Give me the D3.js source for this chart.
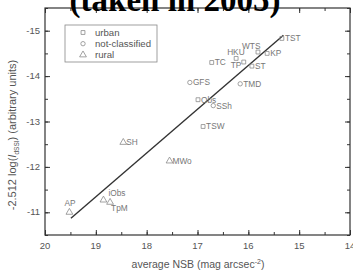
<!DOCTYPE html>
<html>
<head>
<meta charset="utf-8">
<script src="https://cdn.jsdelivr.net/npm/d3@7"></script>
<style>
  body { margin: 0; background: #fff; }
  svg { display: block; }
</style>
</head>
<body>
<script>
// sites: [name, NSB, -2.512 log(I), type]
var names  = ["TST", "KP", "WTS", "HKU", "TC", "TP", "ST", "GFS", "TMD", "Obs", "SSh", "TSW", "SH", "MWo", "iObs", "TpM", "AP"];
var nsb    = [15.34, 15.63, 15.81, 16.24, 16.72, 16.09, 15.93, 17.15, 16.16, 16.99, 16.69, 16.89, 18.46, 17.55, 18.85, 18.72, 19.52];
var mag    = [-14.83, -14.50, -14.53, -14.39, -14.30, -14.31, -14.22, -13.86, -13.83, -13.48, -13.35, -12.89, -12.54, -12.13, -11.27, -11.22, -11.00];
var kinds  = ["urban", "urban", "urban", "urban", "urban", "urban", "urban", "not-classified", "not-classified", "urban", "not-classified", "urban", "rural", "rural", "rural", "rural", "rural"];
var legendKinds = ["urban", "not-classified", "rural"];
var xTicks = [20, 19, 18, 17, 16, 15, 14];
var yTicks = [-15, -14, -13, -12, -11];
var fitLine = [[19.49, -10.87], [15.31, -14.90]];

const WIDTH = 353;
const HEIGHT = 273;
const PL = 45, PR = 350, PT = 8, PB = 235;

var x = d3.scaleLinear().domain([20, 14]).range([PL, PR]);
var y = d3.scaleLinear().domain([-10.5, -15.5]).range([PB, PT]);

var svg = d3.select("body").append("svg")
    .attr("width", WIDTH)
    .attr("height", HEIGHT)
    .attr("font-family", "Liberation Sans, Arial, sans-serif");

var axisColor = "#333";
var markColor = "#8a8a8a";
var textColor = "#555";

// ticks (inward) on all sides
function ticks(g, axis) {
  g.call(axis);
  g.select(".domain").remove();
  g.selectAll("line").attr("stroke", axisColor);
}
var minorX = d3.range(20, 13.9, -0.5);
var minorY = d3.range(-15.5, -10.4, 0.5);

svg.append("g").attr("transform", `translate(0,${PB})`)
  .call(g => ticks(g, d3.axisTop(x).tickValues(minorX).tickSize(3).tickFormat("")));
svg.append("g").attr("transform", `translate(0,${PB})`)
  .call(g => ticks(g, d3.axisTop(x).tickValues(xTicks).tickSize(5).tickFormat("")));
svg.append("g").attr("transform", `translate(0,${PT})`)
  .call(g => ticks(g, d3.axisBottom(x).tickValues(minorX).tickSize(3).tickFormat("")));
svg.append("g").attr("transform", `translate(0,${PT})`)
  .call(g => ticks(g, d3.axisBottom(x).tickValues(xTicks).tickSize(5).tickFormat("")));
svg.append("g").attr("transform", `translate(${PL},0)`)
  .call(g => ticks(g, d3.axisRight(y).tickValues(minorY).tickSize(3).tickFormat("")));
svg.append("g").attr("transform", `translate(${PL},0)`)
  .call(g => ticks(g, d3.axisRight(y).tickValues(yTicks).tickSize(5).tickFormat("")));
svg.append("g").attr("transform", `translate(${PR},0)`)
  .call(g => ticks(g, d3.axisLeft(y).tickValues(minorY).tickSize(3).tickFormat("")));
svg.append("g").attr("transform", `translate(${PR},0)`)
  .call(g => ticks(g, d3.axisLeft(y).tickValues(yTicks).tickSize(5).tickFormat("")));

// tick labels
svg.append("g").selectAll("text").data(xTicks).enter().append("text")
  .attr("x", d => x(d)).attr("y", PB + 14)
  .attr("text-anchor", "middle").attr("font-size", "9.5px").attr("fill", textColor)
  .text(d => d);
svg.append("g").selectAll("text").data(yTicks).enter().append("text")
  .attr("x", PL - 5).attr("y", d => y(d) + 3)
  .attr("text-anchor", "end").attr("font-size", "9.5px").attr("fill", textColor)
  .text(d => d);

// frame
svg.append("rect")
  .attr("x", PL).attr("y", PT)
  .attr("width", PR - PL).attr("height", PB - PT)
  .attr("fill", "none").attr("stroke", axisColor).attr("stroke-width", 1.2);

// fit line
svg.append("line")
  .attr("x1", x(fitLine[0][0])).attr("y1", y(fitLine[0][1]))
  .attr("x2", x(fitLine[1][0])).attr("y2", y(fitLine[1][1]))
  .attr("stroke", "#333").attr("stroke-width", 1.4);

var symbolType = {
  "urban": d3.symbolSquare,
  "not-classified": d3.symbolCircle,
  "rural": d3.symbolTriangle
};
var symbolSize = { "urban": 15, "not-classified": 15, "rural": 20 };

function marker(sel, kind) {
  sel.attr("d", d3.symbol().type(symbolType[kind]).size(symbolSize[kind]))
    .attr("fill", "none").attr("stroke", markColor).attr("stroke-width", 0.8);
}

var pts = d3.range(names.length);
svg.append("g").selectAll("path").data(pts).enter().append("path")
  .attr("transform", i => `translate(${x(nsb[i])},${y(mag[i])})`)
  .each(function(i) { marker(d3.select(this), kinds[i]); });

// label offsets per site (relative to marker)
var labelDx = { "TST": 3, "KP": 3, "WTS": -16, "HKU": -9, "TC": 3, "TP": -13, "ST": 3, "GFS": 3, "TMD": 3, "Obs": 3, "SSh": 3, "TSW": 3, "SH": 3, "MWo": 3, "iObs": 5, "TpM": 1, "AP": -5 };
var labelDy = { "TST": 3, "KP": 3, "WTS": -3, "HKU": -3, "TC": 3, "TP": 6, "ST": 3, "GFS": 3, "TMD": 3, "Obs": 3, "SSh": 3, "TSW": 3, "SH": 3, "MWo": 3, "iObs": -4, "TpM": 9, "AP": -6 };

svg.append("g").selectAll("text").data(pts).enter().append("text")
  .attr("x", i => x(nsb[i]) + labelDx[names[i]])
  .attr("y", i => y(mag[i]) + labelDy[names[i]])
  .attr("font-size", "8.3px").attr("fill", "#777")
  .text(i => names[i]);

// legend
svg.append("rect")
  .attr("x", 65).attr("y", 25).attr("width", 92).attr("height", 37)
  .attr("fill", "none").attr("stroke", "#888").attr("stroke-width", 0.8);
var lg = svg.append("g").selectAll("g").data(legendKinds).enter().append("g")
  .attr("transform", (d, i) => `translate(83,${32.5 + i * 11.2})`);
lg.append("path").each(function(d) { marker(d3.select(this), d); });
lg.append("text").attr("x", 12).attr("y", 3.3)
  .attr("font-size", "9.6px").attr("fill", textColor).text(d => d);

// axis titles
svg.append("text")
  .attr("x", 198).attr("y", 268)
  .attr("text-anchor", "middle").attr("font-size", "10.5px").attr("fill", textColor)
  .html("average NSB (mag arcsec<tspan dy='-4' font-size='7px'>-2</tspan><tspan dy='4'>)</tspan>");

svg.append("text")
  .attr("transform", "translate(16,135) rotate(-90)")
  .attr("text-anchor", "middle").attr("font-size", "11px").attr("fill", textColor)
  .html("-2.512 log(<tspan font-style='italic'>I</tspan><tspan dy='2.5' font-size='6.5px'>dSSI</tspan><tspan dy='-2.5'>) (arbitrary units)</tspan>");

// title (clipped by the window top)
svg.append("text")
  .attr("x", 175).attr("y", 11)
  .attr("text-anchor", "middle")
  .attr("font-family", "Liberation Serif, Times New Roman, serif")
  .attr("font-weight", "bold").attr("font-size", "33px").attr("fill", "#000")
  .text("(taken in 2005)");
</script>
</body>
</html>
